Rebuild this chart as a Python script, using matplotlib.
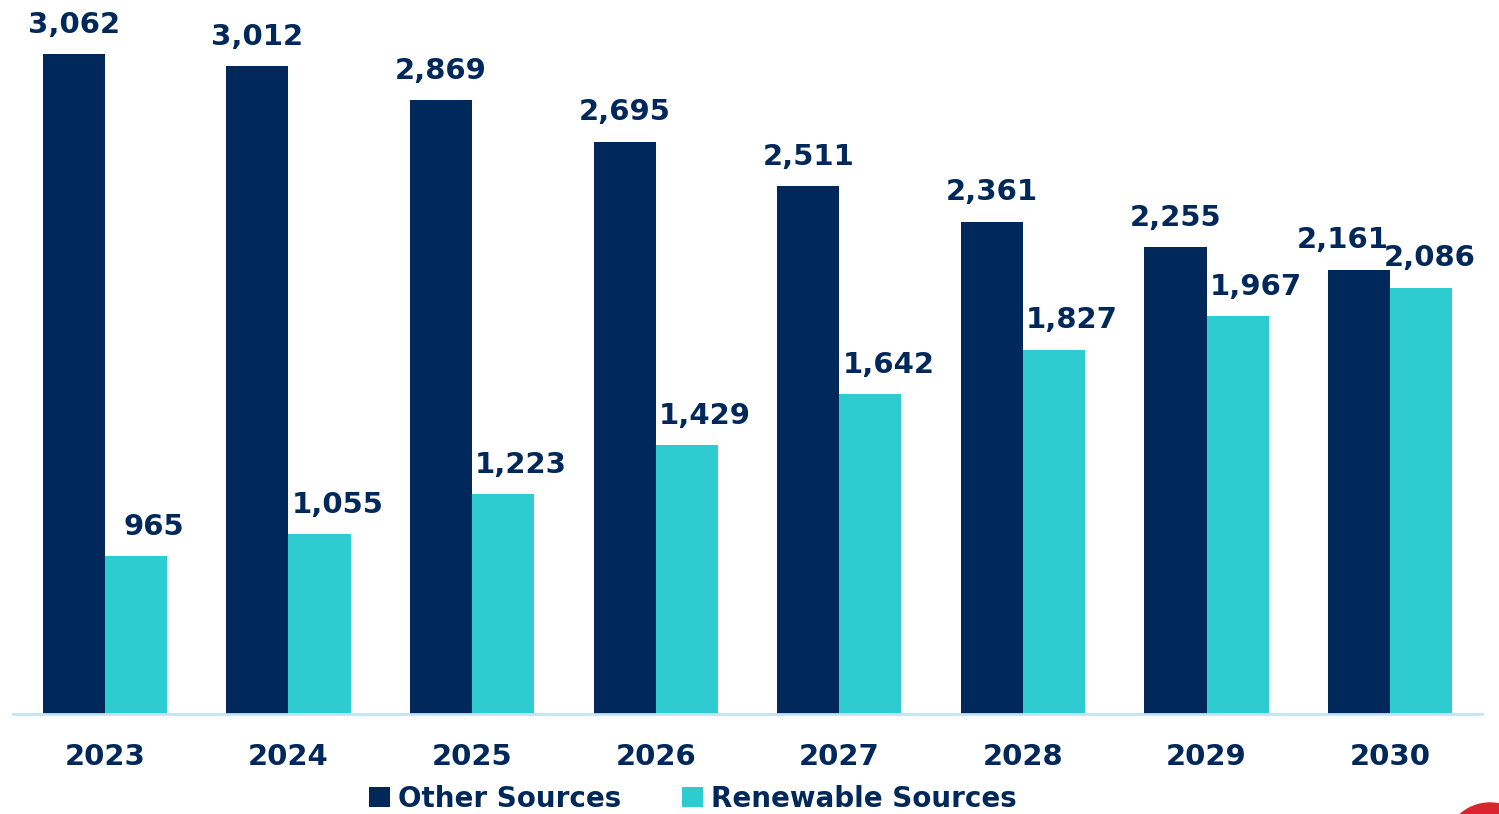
import matplotlib.pyplot as plt
from matplotlib.patches import Ellipse
import numpy as np

years = ['2023', '2024', '2025', '2026', '2027', '2028', '2029', '2030']
other_sources = [3062, 3012, 2869, 2695, 2511, 2361, 2255, 2161]
renewable_sources = [965, 1055, 1223, 1429, 1642, 1827, 1967, 2086]

navy = '#00285A'
cyan = '#2ECBD1'
axis_blue = '#C3E2F8'

plt.rcParams['font.family'] = ['DejaVu Sans']

fig = plt.figure(figsize=(14.99, 8.14), dpi=100)
ax = fig.add_axes([13 / 1499, 100 / 814, 1469 / 1499, 714 / 814])

x = np.arange(len(years))
w = 0.338
bars_other = ax.bar(x - w / 2, other_sources, w, color=navy, label='Other Sources')
bars_ren = ax.bar(x + w / 2, renewable_sources, w, color=cyan, label='Renewable Sources')

# value labels
for i, (b, v) in enumerate(zip(bars_other, other_sources)):
    dx = -12 if i == len(years) - 1 else 0
    ax.annotate(f'{v:,}', (b.get_x() + b.get_width() / 2, v), xytext=(dx, 11),
                textcoords='offset points', ha='center', va='bottom',
                fontsize=21, fontweight='bold', color=navy)
for i, (b, v) in enumerate(zip(bars_ren, renewable_sources)):
    dx = 6 if i == len(years) - 1 else 13
    ax.annotate(f'{v:,}', (b.get_x() + b.get_width() / 2, v), xytext=(dx, 11),
                textcoords='offset points', ha='center', va='bottom',
                fontsize=21, fontweight='bold', color=navy)

ax.set_xlim(-0.5, len(years) - 0.5)
ax.set_ylim(305, 3287)
ax.set_xticks(x)
ax.set_xticklabels(years, fontsize=21, fontweight='bold', color=navy)
ax.tick_params(axis='x', length=0, pad=21)
ax.set_yticks([])
for s in ['top', 'right', 'left']:
    ax.spines[s].set_visible(False)
ax.spines['bottom'].set_color(axis_blue)
ax.spines['bottom'].set_linewidth(2)

leg = fig.legend(handles=[bars_other, bars_ren], loc='center',
                 bbox_to_anchor=(693 / 1499, 1 - 799 / 814), ncol=2, frameon=False,
                 prop={'size': 20, 'weight': 'bold'}, handlelength=0.75, handleheight=0.75,
                 handletextpad=0.3, columnspacing=2.2)
for t in leg.get_texts():
    t.set_color(navy)

# partial logo in the corner
fig.patches.append(Ellipse((1490 / 1499, 1 - 848 / 814), 90 / 1499, 90 / 814,
                           transform=fig.transFigure, color='#D9262E'))

fig.savefig('out.png', dpi=100)
